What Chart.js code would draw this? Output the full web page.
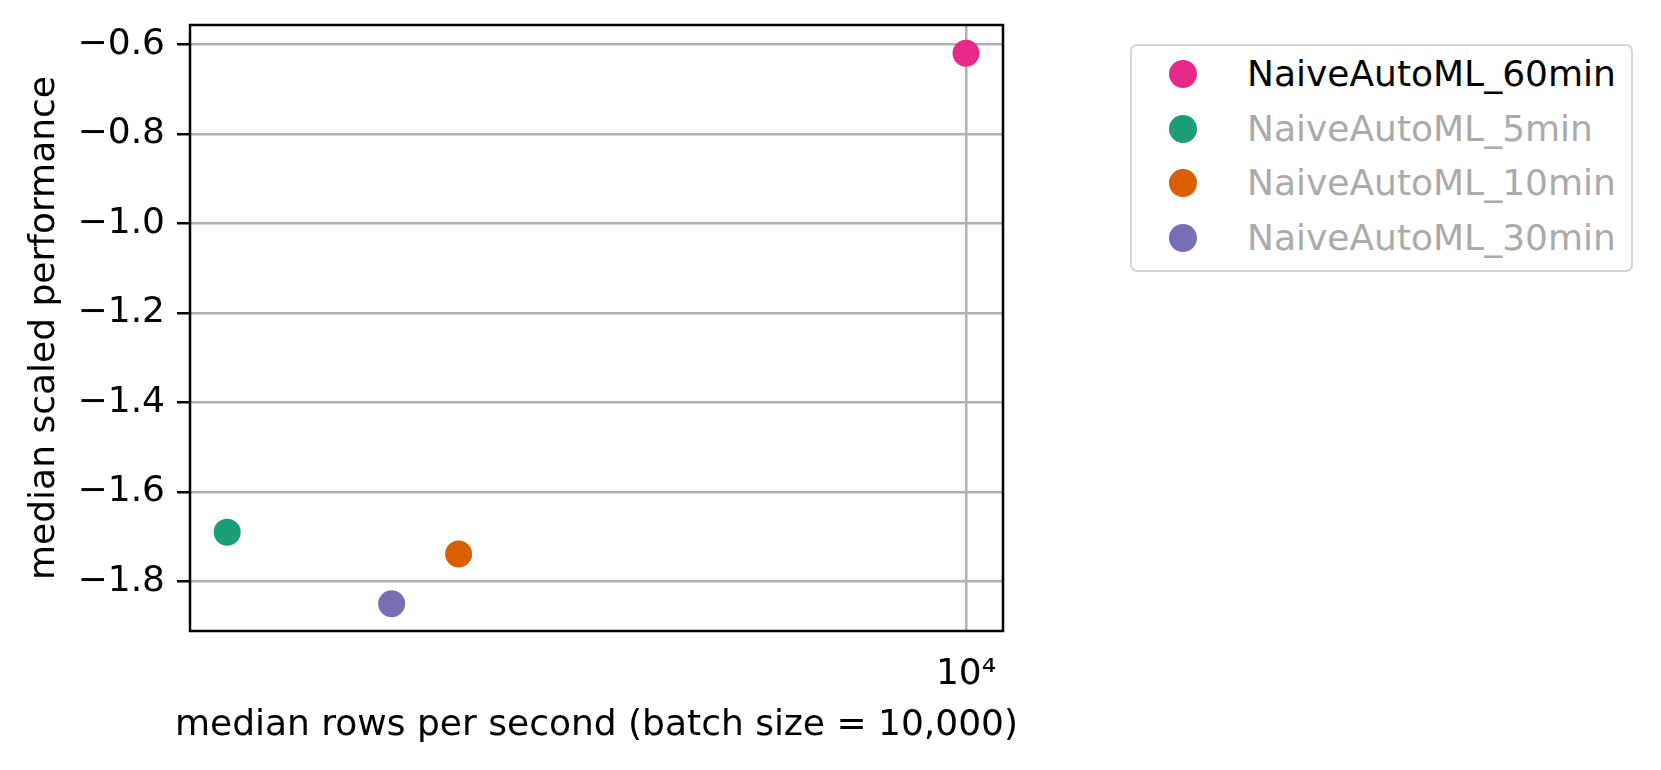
<!doctype html>
<html>
<head>
  <meta charset="utf-8" />
  <title>median rows per second vs performance</title>
  <script src="https://cdn.jsdelivr.net/npm/chart.js"></script>
  <style>
    html, body { margin: 0; padding: 0; background: #fff; }
    #wrap { position: relative; width: 1661px; height: 770px; font-family: "DejaVu Sans", sans-serif; }
    #legend {
      position: absolute; left: 1130px; top: 44px; width: 499px; height: 224px;
      border: 2.5px solid #d6d6d6; border-radius: 7px; background: #fff;
    }
    .item { position: relative; height: 54.6px; line-height: 54.6px; font-size: 36px; white-space: nowrap; }
    .dot { position: absolute; left: 37px; top: 14px; width: 28px; height: 28px; border-radius: 50%; }
    .txt { position: absolute; left: 115px; top: 1px; }
  </style>
</head>
<body>
<div id="wrap">
  <canvas id="chart" width="1661" height="770"></canvas>
  <div id="legend"></div>
</div>

<script>
  // data
  var names = ['NaiveAutoML_60min', 'NaiveAutoML_5min', 'NaiveAutoML_10min', 'NaiveAutoML_30min'];
  var rowsPerSec = [10000, 1510, 2730, 2300];
  var scaledPerf = [-0.619, -1.690, -1.739, -1.850];
  var colors = ['#e7298a', '#1b9e77', '#d95f02', '#7570b3'];
  var legendTextColors = ['#000000', '#aaaaaa', '#aaaaaa', '#aaaaaa'];
  var yTicks = [-1.8, -1.6, -1.4, -1.2, -1.0, -0.8, -0.6];
  var xTicks = [10000];
  var xTitle = 'median rows per second (batch size = 10,000)';
  var yTitle = 'median scaled performance';

  var xMin = 1373, xMax = 10992;
  var yMin = -1.911, yMax = -0.556;

  var datasets = names.map(function (n, i) {
    return {
      label: n,
      data: [{ x: rowsPerSec[i], y: scaledPerf[i] }],
      backgroundColor: colors[i],
      borderColor: colors[i],
      borderWidth: 0,
      pointRadius: 13.5,
      pointHoverRadius: 13.5
    };
  });

  // frame round the plot area (all four spines) + x title without width squeeze
  var frame = {
    id: 'frame',
    afterDatasetsDraw: function (chart) {
      var a = chart.chartArea, ctx = chart.ctx;
      ctx.save();
      ctx.strokeStyle = '#000';
      ctx.lineWidth = 2.5;
      ctx.strokeRect(a.left, a.top, a.right - a.left, a.bottom - a.top);
      ctx.fillStyle = '#000';
      ctx.font = '36px "DejaVu Sans", sans-serif';
      ctx.textAlign = 'center';
      ctx.textBaseline = 'alphabetic';
      ctx.fillText(xTitle, (a.left + a.right) / 2, 735);
      ctx.restore();
    }
  };

  Chart.defaults.font.family = '"DejaVu Sans", sans-serif';
  Chart.defaults.color = '#000';

  new Chart(document.getElementById('chart').getContext('2d'), {
    type: 'scatter',
    data: { datasets: datasets },
    options: {
      responsive: false,
      animation: false,
      layout: { padding: { left: 0, top: 25, right: 658, bottom: 0 } },
      plugins: { legend: { display: false }, tooltip: { enabled: false } },
      scales: {
        x: {
          type: 'logarithmic',
          min: xMin,
          max: xMax,
          afterBuildTicks: function (s) { s.ticks = xTicks.map(function (v) { return { value: v }; }); },
          afterFit: function (s) { s.height = 139; s.paddingLeft = 0; s.paddingRight = 0; },
          ticks: {
            font: { size: 36 },
            padding: 22,
            maxRotation: 0,
            autoSkip: false,
            callback: function (v) { return '10' + '⁴'; }
          },
          grid: { color: '#b0b0b0', lineWidth: 2.5, drawTicks: false },
          border: { display: false },
          title: { display: false }
        },
        y: {
          min: yMin,
          max: yMax,
          afterBuildTicks: function (s) { s.ticks = yTicks.map(function (v) { return { value: v }; }); },
          afterFit: function (s) { s.width = 190; s.paddingTop = 0; s.paddingBottom = 0; },
          ticks: {
            font: { size: 36 },
            padding: 12,
            autoSkip: false,
            callback: function (v) { return (v < 0 ? '\u2212' : '') + Math.abs(v).toFixed(1); }
          },
          grid: { color: '#b0b0b0', lineWidth: 2.5, tickColor: '#000', tickWidth: 2.5, tickLength: 13 },
          border: { display: false },
          title: {
            display: true,
            text: yTitle,
            font: { size: 36 },
            padding: { top: 23, bottom: 0 }
          }
        }
      }
    },
    plugins: [frame]
  });

  // legend box on the right
  var leg = document.getElementById('legend');
  names.forEach(function (n, i) {
    var row = document.createElement('div');
    row.className = 'item';
    row.innerHTML = '<span class="dot" style="background:' + colors[i] + '"></span>' +
      '<span class="txt" style="color:' + legendTextColors[i] + '">' + n + '</span>';
    leg.appendChild(row);
  });
</script>
</body>
</html>
